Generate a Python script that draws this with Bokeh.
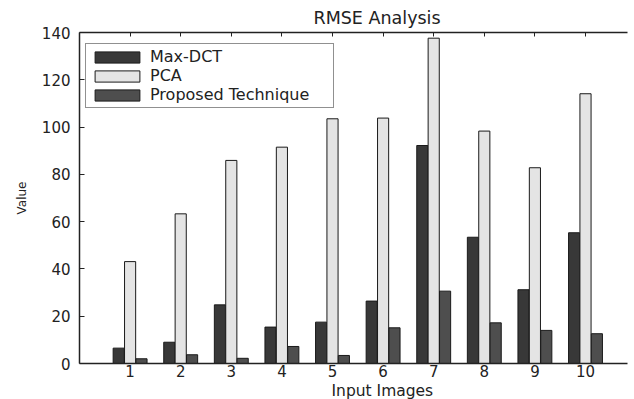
from bokeh.plotting import figure
from bokeh.models import ColumnDataSource, Range1d, LinearAxis, FixedTicker, Legend, LegendItem, Title
from bokeh.transform import dodge
from bokeh.embed import file_html
from bokeh.resources import INLINE

images = [1, 2, 3, 4, 5, 6, 7, 8, 9, 10]
tick_labels = ["1", "2", "3", "4", "5", "6", "7", "8", "9", "10"]
max_dct = [6.5, 9.0, 24.8, 15.4, 17.5, 26.4, 92.2, 53.4, 31.2, 55.3]
pca = [43.1, 63.3, 85.9, 91.5, 103.5, 103.8, 137.6, 98.3, 82.8, 114.1]
proposed = [2.0, 3.7, 2.2, 7.2, 3.4, 15.1, 30.6, 17.2, 14.0, 12.6]
series_names = ["Max-DCT", "PCA", "Proposed Technique"]
y_ticks = [0, 20, 40, 60, 80, 100, 120, 140]

FONT = "DejaVu Sans"
INK = "#222222"

src = ColumnDataSource(dict(x=images, a=max_dct, b=pca, c=proposed))

p = figure(width=634, height=399, output_backend="svg", toolbar_location=None,
           x_range=Range1d(0, 10.83), y_range=Range1d(0, 140),
           min_border_left=79, min_border_right=7, min_border_top=32, min_border_bottom=36)
p.title = None
p.outline_line_color = None
p.background_fill_color = "white"
p.border_fill_color = "white"
p.xgrid.visible = False
p.ygrid.visible = False

w = 0.22
off = 0.225
r1 = p.vbar(x=dodge("x", -off, range=p.x_range), top="a", width=w, source=src,
            fill_color="#383838", line_color="#1a1a1a", line_width=1)
r2 = p.vbar(x=dodge("x", 0, range=p.x_range), top="b", width=w, source=src,
            fill_color="#e4e4e4", line_color="#1a1a1a", line_width=1)
r3 = p.vbar(x=dodge("x", off, range=p.x_range), top="c", width=w, source=src,
            fill_color="#4e4e4e", line_color="#1a1a1a", line_width=1)

# bottom axis
xa = p.xaxis[0]
xa.ticker = FixedTicker(ticks=images)
xa.major_label_overrides = {i: t for i, t in zip(images, tick_labels)}
xa.major_tick_in = 0
xa.major_tick_out = 0
xa.minor_tick_line_color = None
xa.major_label_standoff = 1
xa.major_label_text_font = FONT
xa.major_label_text_font_size = "15px"
xa.major_label_text_color = INK
xa.axis_line_color = INK
xa.axis_line_width = 1.5

# left axis
ya = p.yaxis[0]
ya.ticker = FixedTicker(ticks=y_ticks)
ya.major_tick_in = 5
ya.major_tick_out = 0
ya.minor_tick_line_color = None
ya.major_label_standoff = 9
ya.major_label_text_font = FONT
ya.major_label_text_font_size = "15px"
ya.major_label_text_color = INK
ya.axis_line_color = INK
ya.axis_line_width = 1.5
ya.major_tick_line_color = INK
ya.axis_label = "Value"
ya.axis_label_text_font = FONT
ya.axis_label_text_font_size = "12px"
ya.axis_label_text_font_style = "normal"
ya.axis_label_text_color = INK
ya.axis_label_standoff = 10

# top border with inward ticks, no labels
top = LinearAxis(ticker=FixedTicker(ticks=images))
top.major_label_overrides = {i: "" for i in images}
top.major_tick_in = 4
top.major_tick_out = 0
top.minor_tick_line_color = None
top.major_label_standoff = 0
top.axis_line_color = INK
top.axis_line_width = 1.5
top.major_tick_line_color = INK
p.add_layout(top, "above")

# title (offset to match reference placement)
p.add_layout(Title(text="RMSE Analysis", align="left", offset=234, standoff=9,
                   text_font=FONT, text_font_size="17.5px", text_font_style="normal",
                   text_color=INK), "above")
# x-axis label
p.add_layout(Title(text="Input Images", align="left", offset=252, standoff=0,
                   text_font=FONT, text_font_size="15.5px", text_font_style="normal",
                   text_color=INK), "below")

legend = Legend(items=[LegendItem(label=series_names[0], renderers=[r1]),
                       LegendItem(label=series_names[1], renderers=[r2]),
                       LegendItem(label=series_names[2], renderers=[r3])],
                location=(6, 255))
legend.glyph_width = 56
legend.glyph_height = 14
legend.label_text_font = FONT
legend.label_text_font_size = "16px"
legend.label_text_color = INK
legend.label_standoff = 5
legend.spacing = 0
legend.padding = 3
legend.margin = 0
legend.border_line_color = INK
legend.border_line_width = 1.2
legend.background_fill_color = "white"
legend.label_width = 180
p.add_layout(legend, "center")

open("out.html", "w").write(file_html(p, INLINE))
